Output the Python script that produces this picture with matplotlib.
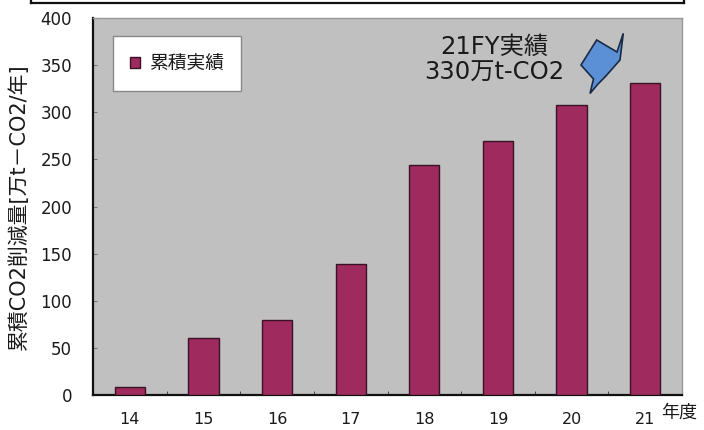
import matplotlib
matplotlib.use("Agg")
import matplotlib.pyplot as plt
from matplotlib.lines import Line2D
from matplotlib.patches import Polygon

# ── данные ───────────────────────────────────────────────────────────────────
years = ["14", "15", "16", "17", "18", "19", "20", "21"]
cumulative = [9, 60, 80, 139, 244, 270, 308, 331]
series_name = "累積実績"
callout = "21FY実績\n330万t-CO2"

BAR = "#9E2A5E"
BAR_EDGE = "#3A1225"
PANEL = "#C0C0C0"
FONT = ["DejaVu Sans", "Noto Sans CJK JP"]
JP = ["Noto Sans CJK JP", "DejaVu Sans"]

W, H = 704, 430
fig = plt.figure(figsize=(W / 100, H / 100), dpi=100, facecolor="white")
ax = fig.add_axes([93 / W, 1 - 395 / H, 589 / W, 377 / H])
ax.set_facecolor(PANEL)

x = range(len(years))
ax.bar(x, cumulative, width=0.41, color=BAR, edgecolor=BAR_EDGE,
       linewidth=1.0, label=series_name, zorder=3)

ax.set_xlim(-0.5, len(years) - 0.5)
ax.set_ylim(0, 400)
ax.set_yticks(range(0, 401, 50))
ax.set_yticklabels([str(v) for v in range(0, 401, 50)],
                   fontfamily=FONT, fontsize=12, color="#1a1a1a")
ax.set_xticks(list(x))
ax.set_xticklabels(years, fontfamily=FONT, fontsize=11.5, color="#1a1a1a")
ax.set_xticks([i + 0.5 for i in range(len(years) - 1)], minor=True)
ax.tick_params(axis="x", which="major", length=0, pad=12)
ax.tick_params(axis="x", which="minor", direction="in", length=3,
               color="#333")
ax.tick_params(axis="y", direction="in", length=3, color="#777", pad=15)

for side in ("left", "bottom"):
    ax.spines[side].set_color("#111")
    ax.spines[side].set_linewidth(1.6)
for side in ("top", "right"):
    ax.spines[side].set_color("#999")
    ax.spines[side].set_linewidth(1.0)

ax.set_ylabel("累積CO2削減量[万t－CO2/年]", fontfamily=FONT, fontsize=15,
              color="#1a1a1a")
ax.yaxis.set_label_coords(-0.108, 0.5)
ax.text(0.995, -0.048, "年度", transform=ax.transAxes, fontfamily=JP,
        fontsize=13, color="#1a1a1a", ha="center", va="center")

leg = ax.legend(loc="upper left", bbox_to_anchor=(0.034, 0.952),
                borderaxespad=0, frameon=True, fancybox=False,
                framealpha=1.0,
                prop={"family": JP, "size": 13.5},
                handlelength=0.55, handleheight=0.55, handletextpad=0.45,
                borderpad=0.9)
leg.get_frame().set_edgecolor("#888")
leg.get_frame().set_linewidth(1.0)
leg.get_frame().set_facecolor("white")
for t in leg.get_texts():
    t.set_color("#1a1a1a")

# ── выноска 21FY ─────────────────────────────────────────────────────────────
fig.text(494 / W, 1 - 60 / H, callout, fontfamily=FONT, fontsize=17.5,
         color="#1a1a1a", ha="center", va="center", linespacing=1.1)
arrow_px = [(596.7, 40), (617, 52), (623.3, 33.3), (620, 60),
            (605, 77), (598, 84), (590, 93.5), (593.5, 79), (581, 65)]
fig.add_artist(Polygon([(px / W, 1 - py / H) for px, py in arrow_px],
                       closed=True, transform=fig.transFigure,
                       facecolor="#5B8FD6", edgecolor="#1A2A44",
                       linewidth=1.2))

# рамка сверху (обрезанный блок)
fig.add_artist(Line2D([31 / W, 684 / W], [1 - 3 / H, 1 - 3 / H],
                      transform=fig.transFigure, color="#111", linewidth=1.6))
for xp in (31, 684):
    fig.add_artist(Line2D([xp / W, xp / W], [1 - 3 / H, 1.0],
                          transform=fig.transFigure, color="#111",
                          linewidth=1.6))

fig.savefig("out.png", dpi=100, facecolor="white")
